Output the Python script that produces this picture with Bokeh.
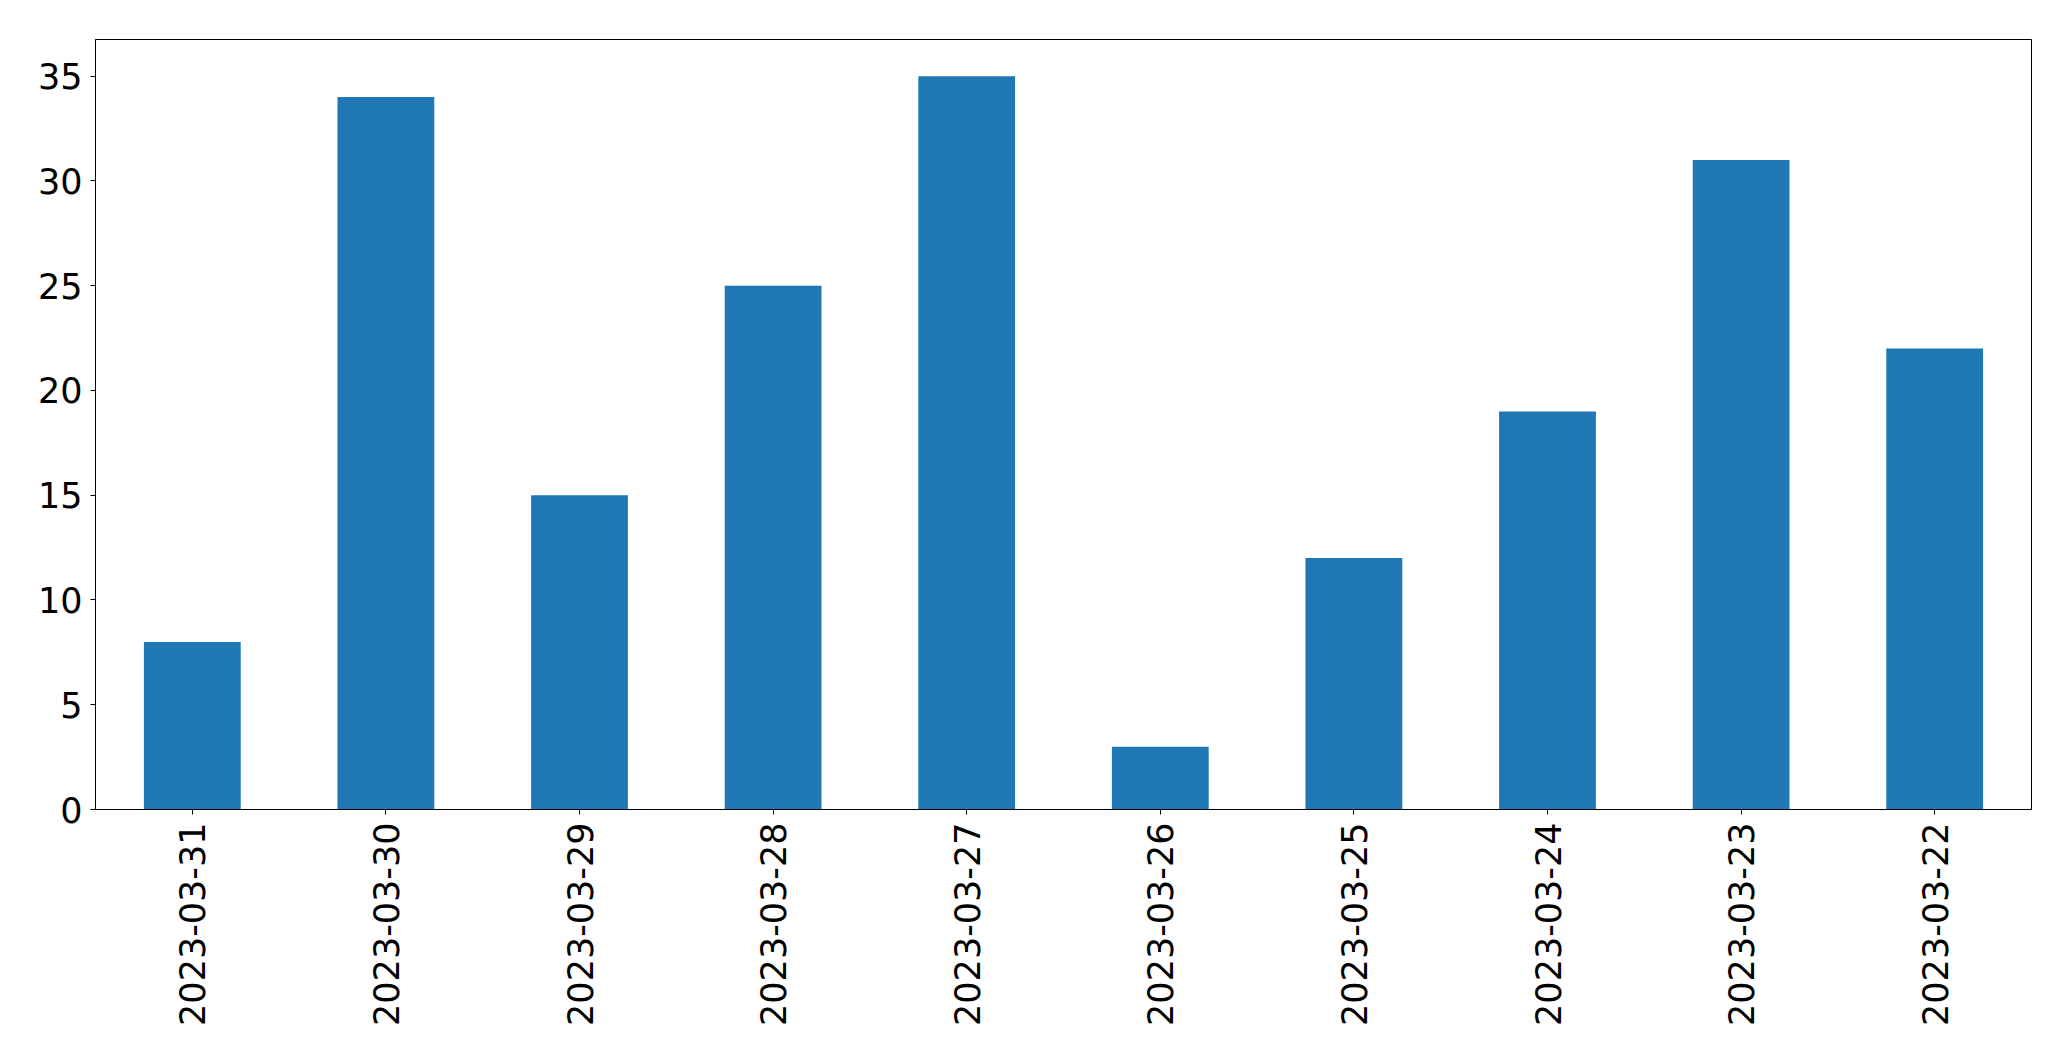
import math
from bokeh.plotting import figure
from bokeh.models import Range1d, FactorRange, FixedTicker, ColumnDataSource
from bokeh.embed import file_html
from bokeh.resources import INLINE

dates = ["2023-03-31", "2023-03-30", "2023-03-29", "2023-03-28", "2023-03-27",
         "2023-03-26", "2023-03-25", "2023-03-24", "2023-03-23", "2023-03-22"]
counts = [8, 34, 15, 25, 35, 3, 12, 19, 31, 22]
y_ticks = [0, 5, 10, 15, 20, 25, 30, 35]

src = ColumnDataSource(dict(x=dates, top=counts))

p = figure(width=2071, height=1061, output_backend="svg", toolbar_location=None,
           x_range=FactorRange(*dates, range_padding=0), y_range=Range1d(0, 36.75),
           min_border_left=95, min_border_right=40, min_border_top=39, min_border_bottom=252)
p.vbar(x="x", top="top", width=0.5, source=src, fill_color="#1f77b4", line_color=None)

p.xgrid.visible = False
p.ygrid.visible = False
p.outline_line_color = "black"
p.outline_line_width = 1
p.background_fill_color = "white"
p.border_fill_color = "white"

p.yaxis.ticker = FixedTicker(ticks=y_ticks)
for ax in (p.xaxis[0], p.yaxis[0]):
    ax.axis_line_color = "black"
    ax.major_tick_line_color = "black"
    ax.major_tick_out = 5
    ax.major_tick_in = 0
    ax.minor_tick_line_color = None
    ax.major_label_text_font = "DejaVu Sans"
    ax.major_label_text_font_size = "35px"
    ax.major_label_text_color = "black"
    ax.major_label_standoff = 8
p.xaxis.major_label_orientation = math.pi / 2

open("out.html", "w").write(file_html(p, INLINE))
